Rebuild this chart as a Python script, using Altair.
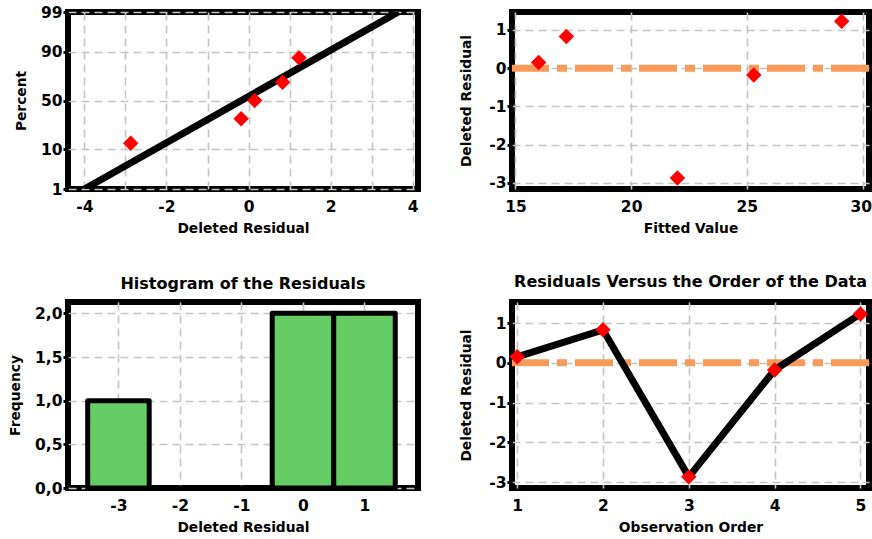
import altair as alt
import pandas as pd
from statistics import NormalDist

# Residual diagnostics for a five-observation regression
obs_order = [1, 2, 3, 4, 5]
fitted_values = [16.0, 17.2, 22.0, 25.3, 29.1]
deleted_resid = [0.15, 0.83, -2.87, -0.18, 1.23]

# Normal probability plot: plotting percentages of the ordered residuals
prob_percent = [13.0, 31.5, 50.0, 68.5, 87.0]
fit_line_x = [-4.0, 3.65]
fit_line_pct = [1, 99]
pct_ticks = [1, 10, 50, 90, 99]

# Histogram of the residuals (unit-width bins)
bin_centers = [-3, -2, -1, 0, 1]
bin_counts = [1, 0, 0, 2, 2]

FONT = "DejaVu Sans"
RED = "#ff0000"
ORANGE = "#f89a5a"
GREEN = "#66cc66"
DIAMOND = 240

nd = NormalDist()
z_lo, z_hi = nd.inv_cdf(0.01), nd.inv_cdf(0.99)
z_ticks = [nd.inv_cdf(p / 100) for p in pct_ticks]


def zero_rule():
    return alt.Chart(pd.DataFrame({"y": [0]})).mark_rule(
        color=ORANGE, strokeWidth=7, strokeDash=[38, 8, 10, 8]
    ).encode(y="y:Q")


def resid_axis(pad):
    return alt.Axis(
        values=[-3, -2, -1, 0, 1],
        labelExpr="'' + datum.value",
        title="Deleted Residual",
        titlePadding=pad,
    )


# --- Normal probability plot ---
prob_df = pd.DataFrame({"resid": sorted(deleted_resid), "pct": prob_percent})
line_df = pd.DataFrame({"resid": fit_line_x, "pct": fit_line_pct})

px = alt.X(
    "resid:Q",
    scale=alt.Scale(domain=[-4.40, 4.13], nice=False, zero=False),
    axis=alt.Axis(
        values=list(range(-4, 5)),
        labelExpr="datum.value % 2 === 0 ? '' + datum.value : ''",
        title="Deleted Residual",
    ),
)
py = alt.Y(
    "z:Q",
    scale=alt.Scale(domain=[z_lo, z_hi], nice=False, zero=False),
    axis=alt.Axis(
        values=z_ticks,
        labelExpr="format(cumulativeNormal(datum.value) * 100, '.0f')",
        title="Percent",
    ),
)
p1_line = alt.Chart(line_df).transform_calculate(
    z="quantileNormal(datum.pct / 100)"
).mark_line(color="black", strokeWidth=7, clip=True).encode(x=px, y=py)
p1_pts = alt.Chart(prob_df).transform_calculate(
    z="quantileNormal(datum.pct / 100)"
).mark_point(shape="diamond", filled=True, color=RED, size=DIAMOND, opacity=1).encode(x=px, y=py)
p1 = alt.layer(p1_line, p1_pts).properties(width=350, height=177)

# --- Versus fits ---
fit_df = pd.DataFrame({"fit": fitted_values, "resid": deleted_resid})
p2_pts = alt.Chart(fit_df).mark_point(
    shape="diamond", filled=True, color=RED, size=DIAMOND, opacity=1
).encode(
    x=alt.X(
        "fit:Q",
        scale=alt.Scale(domain=[14.85, 30.28], nice=False, zero=False),
        axis=alt.Axis(
            values=[15, 20, 25, 30],
            labelExpr="'' + datum.value",
            labelAlign=alt.condition("datum.value === 30", alt.value("right"), alt.value("center")),
            labelOffset=alt.condition("datum.value === 30", alt.value(9), alt.value(0)),
            title="Fitted Value",
        ),
    ),
    y=alt.Y(
        "resid:Q",
        scale=alt.Scale(domain=[-3.16, 1.47], nice=False, zero=False),
        axis=resid_axis(15),
    ),
)
p2 = alt.layer(zero_rule(), p2_pts).properties(width=357, height=177)

# --- Histogram ---
hist_df = pd.DataFrame({"center": bin_centers, "count": bin_counts})
p3 = alt.Chart(hist_df).transform_calculate(
    lo="datum.center - 0.5", hi="datum.center + 0.5"
).mark_bar(fill=GREEN, stroke="black", strokeWidth=5, strokeJoin="round").encode(
    x=alt.X(
        "lo:Q",
        scale=alt.Scale(domain=[-3.82, 1.87], nice=False, zero=False),
        axis=alt.Axis(values=bin_centers, labelExpr="'' + datum.value", title="Deleted Residual"),
    ),
    x2="hi:Q",
    y=alt.Y(
        "count:Q",
        scale=alt.Scale(domain=[0, 2.13], nice=False),
        axis=alt.Axis(
            values=[0, 0.5, 1.0, 1.5, 2.0],
            labelExpr="replace(format(datum.value, '.1f'), '.', ',')",
            title="Frequency",
        ),
    ),
    y2=alt.datum(0),
).properties(width=350, height=186, title="Histogram of the Residuals")

# --- Versus order ---
order_df = pd.DataFrame({"order": obs_order, "resid": deleted_resid})
ox = alt.X(
    "order:Q",
    scale=alt.Scale(domain=[0.94, 5.10], nice=False, zero=False),
    axis=alt.Axis(values=obs_order, labelExpr="'' + datum.value", title="Observation Order"),
)
oy = alt.Y(
    "resid:Q",
    scale=alt.Scale(domain=[-3.15, 1.53], nice=False, zero=False),
    axis=resid_axis(15),
)
p4_line = alt.Chart(order_df).mark_line(color="black", strokeWidth=7).encode(x=ox, y=oy)
p4_pts = alt.Chart(order_df).mark_point(
    shape="diamond", filled=True, color=RED, size=DIAMOND, opacity=1
).encode(x=ox, y=oy)
p4 = alt.layer(zero_rule(), p4_line, p4_pts).properties(
    width=357, height=186, title="Residuals Versus the Order of the Data"
)

chart = (
    alt.concat(
        p1, p2, p3, p4,
        columns=2,
        spacing={"row": 113, "column": 94},
        bounds="flush",
        align="each",
    )
    .properties(
        autosize=alt.AutoSizeParams(type="none"),
        padding={"left": 68, "top": 12, "right": 804, "bottom": 527},
        background="white",
    )
    .configure_view(stroke="black", strokeWidth=6)
    .configure_axis(
        domain=False,
        grid=True,
        gridColor="#c4c4c4",
        gridDash=[8, 5],
        gridWidth=1.6,
        labelFont=FONT,
        labelFontSize=15.5,
        labelFontWeight="bold",
        labelColor="black",
        titleFont=FONT,
        titleFontSize=13.8,
        titleFontWeight="bold",
        titleColor="black",
    )
    .configure_axisX(ticks=False, labelPadding=10, titlePadding=7)
    .configure_axisY(tickSize=5, tickWidth=3, tickColor="black", labelPadding=1, titlePadding=12)
    .configure_title(font=FONT, fontSize=16, fontWeight="bold", color="black", anchor="middle", offset=10)
)

chart.save("out.html", embed_options={"renderer": "svg", "actions": False})
